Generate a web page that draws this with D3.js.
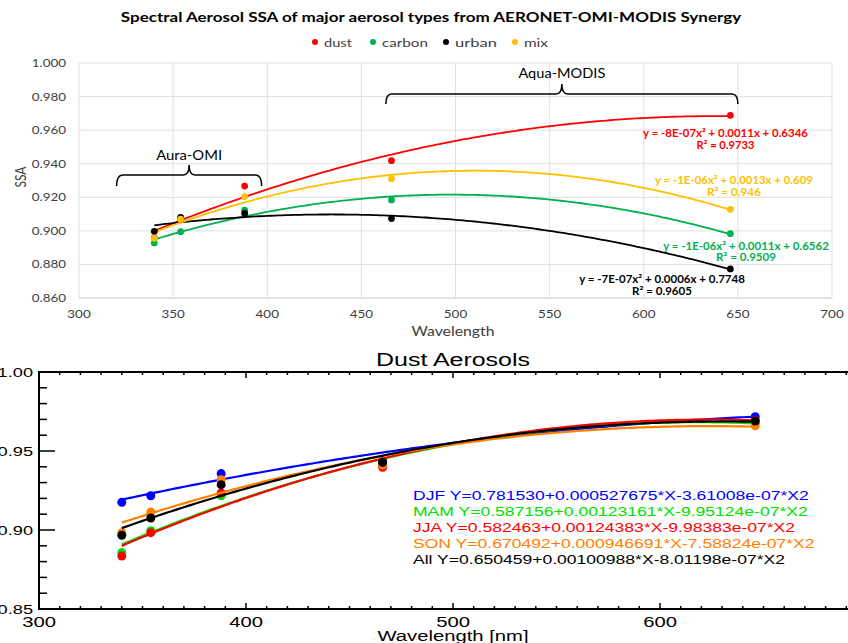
<!DOCTYPE html>
<html>
<head>
<meta charset="utf-8">
<script src="https://cdn.jsdelivr.net/npm/d3@7"></script>
<style>
  body { margin: 0; background: #fff; }
  svg { display: block; }
</style>
</head>
<body>
<div id="chart"></div>
<script>
// data
const wavelengths = [340, 354, 388, 466, 646];

// panel atas
const topTypes = ["dust", "carbon", "urban", "mix"];
const topColors = ["#ff0000", "#00b050", "#000000", "#ffc000"];
const dustSSA = [0.896, 0.907, 0.9267, 0.9418, 0.9688];
const carbonSSA = [0.8928, 0.8995, 0.9124, 0.9184, 0.8983];
const urbanSSA = [0.8997, 0.908, 0.9104, 0.9073, 0.8773];
const mixSSA = [0.8956, 0.907, 0.9204, 0.9311, 0.9128];
const topEquations = [
  "y = -8E-07x² + 0.0011x + 0.6346",
  "y = -1E-06x² + 0.0011x + 0.6562",
  "y = -7E-07x² + 0.0006x + 0.7748",
  "y = -1E-06x² + 0.0013x + 0.609"
];
const topR2 = ["R² = 0.9733", "R² = 0.9509", "R² = 0.9605", "R² = 0.946"];
const topXTicks = [300, 350, 400, 450, 500, 550, 600, 650, 700];
const topYTicks = [0.86, 0.88, 0.90, 0.92, 0.94, 0.96, 0.98, 1.00];

// panel bawah (Dust Aerosols)
const seasons = ["DJF", "MAM", "JJA", "SON", "All"];
const seasonColors = ["#0000ff", "#00e000", "#ff0000", "#ff8000", "#000000"];
const djfSSA = [0.9175, 0.9217, 0.9357, 0.9435, 0.9717];
const mamSSA = [0.8857, 0.8996, 0.9217, 0.941, 0.9675];
const jjaSSA = [0.8835, 0.8983, 0.9234, 0.9397, 0.9694];
const sonSSA = [0.8983, 0.9114, 0.9318, 0.9411, 0.966];
const allSSA = [0.8966, 0.9076, 0.9287, 0.9428, 0.969];
const seasonCoefs = [
  ["0.781530", "0.000527675", "-3.61008e-07"],
  ["0.587156", "0.00123161", "-9.95124e-07"],
  ["0.582463", "0.00124383", "-9.98383e-07"],
  ["0.670492", "0.000946691", "-7.58824e-07"],
  ["0.650459", "0.00100988", "-8.01198e-07"]
];
const bottomXTicks = [300, 400, 500, 600];
const bottomYTicks = [0.85, 0.90, 0.95, 1.00];

const topSeries = [dustSSA, carbonSSA, urbanSSA, mixSSA];
const bottomSeries = [djfSSA, mamSSA, jjaSSA, sonSSA, allSSA];

// trendline polinomial orde 2 (kuadrat terkecil, seperti Excel)
function polyFit2(xs, ys) {
  const S = [0, 0, 0, 0, 0], T = [0, 0, 0];
  xs.forEach((x, i) => {
    for (let k = 0; k < 5; k++) S[k] += Math.pow(x, k);
    for (let k = 0; k < 3; k++) T[k] += ys[i] * Math.pow(x, k);
  });
  const A = [[S[0], S[1], S[2], T[0]], [S[1], S[2], S[3], T[1]], [S[2], S[3], S[4], T[2]]];
  for (let c = 0; c < 3; c++) {
    for (let r = c + 1; r < 3; r++) {
      const f = A[r][c] / A[c][c];
      for (let k = c; k < 4; k++) A[r][k] -= f * A[c][k];
    }
  }
  const b = [0, 0, 0];
  for (let r = 2; r >= 0; r--) {
    let s = A[r][3];
    for (let k = r + 1; k < 3; k++) s -= A[r][k] * b[k];
    b[r] = s / A[r][r];
  }
  return b;
}

// teks di gambar asli tampak melebar; sesuaikan lebar teks
function fitText(sel, w) {
  const len = sel.node().getComputedTextLength();
  const x = +sel.attr("x"), y = +sel.attr("y");
  sel.attr("x", 0).attr("y", 0)
    .attr("transform", `translate(${x},${y}) scale(${w / len},1)`);
  return sel;
}

const W = 848, H = 643;
const svg = d3.select("#chart").append("svg").attr("width", W).attr("height", H);

// ================= PANEL ATAS =================
const calibri = "Lato, 'Open Sans', sans-serif";
const sxTop = 1.22;
const xTop = d3.scaleLinear().domain([300, 700]).range([79, 832]);
const yTop = d3.scaleLinear().domain([0.86, 1.0]).range([298, 63]);

const gTop = svg.append("g").style("font-family", calibri);

// grid
gTop.selectAll(".hgrid").data(topYTicks).enter().append("line")
  .attr("x1", xTop(300)).attr("x2", xTop(700))
  .attr("y1", d => yTop(d)).attr("y2", d => yTop(d))
  .attr("stroke", d => d === 0.86 ? "#c8c8c8" : "#e0e0e0").attr("stroke-width", 1);
gTop.selectAll(".vgrid").data(topXTicks).enter().append("line")
  .attr("x1", d => xTop(d)).attr("x2", d => xTop(d))
  .attr("y1", yTop(0.86)).attr("y2", yTop(1.0))
  .attr("stroke", "#e0e0e0").attr("stroke-width", 1);

// label sumbu
gTop.selectAll(".ytl").data(topYTicks).enter().append("text")
  .attr("transform", d => `translate(66,${yTop(d) + 4}) scale(${sxTop},1)`)
  .attr("text-anchor", "end").attr("font-size", 11).attr("fill", "#404040")
  .text(d => d3.format(".3f")(d));
gTop.selectAll(".xtl").data(topXTicks).enter().append("text")
  .attr("transform", d => `translate(${xTop(d)},318) scale(${sxTop},1)`)
  .attr("text-anchor", "middle").attr("font-size", 11).attr("fill", "#404040")
  .text(d => d);
fitText(gTop.append("text").attr("x", 453).attr("y", 336).attr("text-anchor", "middle")
  .attr("font-size", 12.5).attr("fill", "#404040").text("Wavelength"), 83);
gTop.append("text").attr("transform", `translate(26,177) scale(${sxTop},1) rotate(-90)`)
  .attr("text-anchor", "middle").attr("font-size", 12).attr("fill", "#404040").text("SSA");

// judul & legenda
fitText(gTop.append("text").attr("x", 431).attr("y", 22).attr("text-anchor", "middle")
  .attr("font-size", 13).attr("font-weight", "bold")
  .text("Spectral Aerosol SSA of major aerosol types from AERONET-OMI-MODIS Synergy"), 621);
const legX = [315, 373, 446, 515];
const legW = [28, 46, 42, 24];
topTypes.forEach((t, i) => {
  gTop.append("circle").attr("cx", legX[i]).attr("cy", 42).attr("r", 3).attr("fill", topColors[i]);
  fitText(gTop.append("text").attr("x", legX[i] + 9).attr("y", 46.5).attr("font-size", 12)
    .attr("fill", "#404040").text(t), legW[i]);
});

// trendline & titik
const lineTop = d3.line().x(d => xTop(d[0])).y(d => yTop(d[1]));
const fitX = d3.range(340, 646.01, 2);
topSeries.forEach((ys, i) => {
  const b = polyFit2(wavelengths, ys);
  gTop.append("path")
    .datum(fitX.map(x => [x, b[0] + b[1] * x + b[2] * x * x]))
    .attr("d", lineTop).attr("fill", "none")
    .attr("stroke", topColors[i]).attr("stroke-width", 1.8);
});
topSeries.forEach((ys, i) => {
  gTop.selectAll(".p" + i).data(ys).enter().append("circle")
    .attr("cx", (d, j) => xTop(wavelengths[j])).attr("cy", d => yTop(d))
    .attr("r", 3.4).attr("fill", topColors[i]);
});

// persamaan trendline
const eqPos = [[725.5, 137], [746, 249.5], [662, 283], [734, 184]];
const eqW = [[165, 58], [166, 60], [166, 60], [158, 54]];
topEquations.forEach((e, i) => {
  fitText(gTop.append("text").attr("x", eqPos[i][0]).attr("y", eqPos[i][1])
    .attr("text-anchor", "middle").attr("font-size", 10.5).attr("font-weight", "bold")
    .attr("fill", topColors[i]).text(e), eqW[i][0]);
  fitText(gTop.append("text").attr("x", eqPos[i][0]).attr("y", eqPos[i][1] + 11.8)
    .attr("text-anchor", "middle").attr("font-size", 10.5).attr("font-weight", "bold")
    .attr("fill", topColors[i]).text(topR2[i]), eqW[i][1]);
});

// kurung kurawal
function brace(x0, x1, yFlat, yEnd, yTip) {
  const xm = (x0 + x1) / 2, r = 6;
  return `M${x0},${yEnd} Q${x0},${yFlat} ${x0 + r},${yFlat} L${xm - r},${yFlat} Q${xm},${yFlat} ${xm},${yTip}` +
    ` Q${xm},${yFlat} ${xm + r},${yFlat} L${x1 - r},${yFlat} Q${x1},${yFlat} ${x1},${yEnd}`;
}
gTop.append("path").attr("d", brace(xTop(320), xTop(397), 175, 186, 165))
  .attr("fill", "none").attr("stroke", "#000").attr("stroke-width", 1.5);
fitText(gTop.append("text").attr("x", (xTop(320) + xTop(397)) / 2).attr("y", 160).attr("text-anchor", "middle")
  .attr("font-size", 12.5).text("Aura-OMI"), 66);
gTop.append("path").attr("d", brace(xTop(463), xTop(650), 94, 104, 84))
  .attr("fill", "none").attr("stroke", "#000").attr("stroke-width", 1.5);
fitText(gTop.append("text").attr("x", (xTop(463) + xTop(650)) / 2).attr("y", 78).attr("text-anchor", "middle")
  .attr("font-size", 12.5).text("Aqua-MODIS"), 87);

// ================= PANEL BAWAH =================
const helv = "'Liberation Sans', Arial, Helvetica, sans-serif";
const sx = 1.35; // teks asli tampak melebar
const xB = d3.scaleLinear().domain([300, 700]).range([39, 867]);
const yB = d3.scaleLinear().domain([0.85, 1.0]).range([609, 372]);
const gBot = svg.append("g").style("font-family", helv);

function stretchedText(g, x, y, anchor, size, color, txt) {
  return g.append("text").attr("transform", `translate(${x},${y}) scale(${sx},1)`)
    .attr("text-anchor", anchor).attr("font-size", size).attr("fill", color).text(txt);
}

// bingkai
gBot.append("rect").attr("x", xB(300)).attr("y", yB(1.0))
  .attr("width", xB(700) - xB(300)).attr("height", yB(0.85) - yB(1.0))
  .attr("fill", "none").attr("stroke", "#000").attr("stroke-width", 2);

// tick minor & mayor
const xMinor = d3.range(300, 701, 10);
gBot.selectAll(".xtb").data(xMinor).enter().append("line")
  .attr("x1", d => xB(d)).attr("x2", d => xB(d))
  .attr("y1", yB(0.85)).attr("y2", d => yB(0.85) - (d % 100 === 0 ? 6 : 3))
  .attr("stroke", "#000").attr("stroke-width", 1.5);
gBot.selectAll(".xtt").data(xMinor).enter().append("line")
  .attr("x1", d => xB(d)).attr("x2", d => xB(d))
  .attr("y1", yB(1.0)).attr("y2", d => yB(1.0) + (d % 100 === 0 ? 6 : 3))
  .attr("stroke", "#000").attr("stroke-width", 1.5);
const yMinor = d3.range(0, 16).map(i => 0.85 + i * 0.01);
gBot.selectAll(".ytk").data(yMinor).enter().append("line")
  .attr("x1", xB(300)).attr("x2", (d, i) => xB(300) + (i % 5 === 0 ? 16 : 8))
  .attr("y1", d => yB(d)).attr("y2", d => yB(d))
  .attr("stroke", "#000").attr("stroke-width", 1.5);

bottomXTicks.forEach(t => stretchedText(gBot, xB(t), 627, "middle", 15, "#000", t));
bottomYTicks.forEach(t => stretchedText(gBot, 33, yB(t) + 4.5, "end", 13.5, "#000", d3.format(".2f")(t)));
stretchedText(gBot, 453, 641, "middle", 15, "#000", "Wavelength [nm]");
stretchedText(gBot, 453, 366, "middle", 18.5, "#000", "Dust Aerosols");

// kurva fit & titik
const lineB = d3.line().x(d => xB(d[0])).y(d => yB(d[1]));
const fitXB = d3.range(340, 646.01, 2);
bottomSeries.forEach((ys, i) => {
  const c = seasonCoefs[i].map(Number);
  gBot.append("path")
    .datum(fitXB.map(x => [x, c[0] + c[1] * x + c[2] * x * x]))
    .attr("d", lineB).attr("fill", "none")
    .attr("stroke", seasonColors[i]).attr("stroke-width", 2.2);
  gBot.selectAll(".bp" + i).data(ys).enter().append("circle")
    .attr("cx", (d, j) => xB(wavelengths[j])).attr("cy", d => yB(d))
    .attr("r", 4.5).attr("fill", seasonColors[i]);
});

// legenda persamaan
seasons.forEach((s, i) => {
  const c = seasonCoefs[i];
  stretchedText(gBot, 413, 500 + i * 16, "start", 13, seasonColors[i],
    `${s} Y=${c[0]}+${c[1]}*X${c[2]}*X2`);
});
</script>
</body>
</html>
